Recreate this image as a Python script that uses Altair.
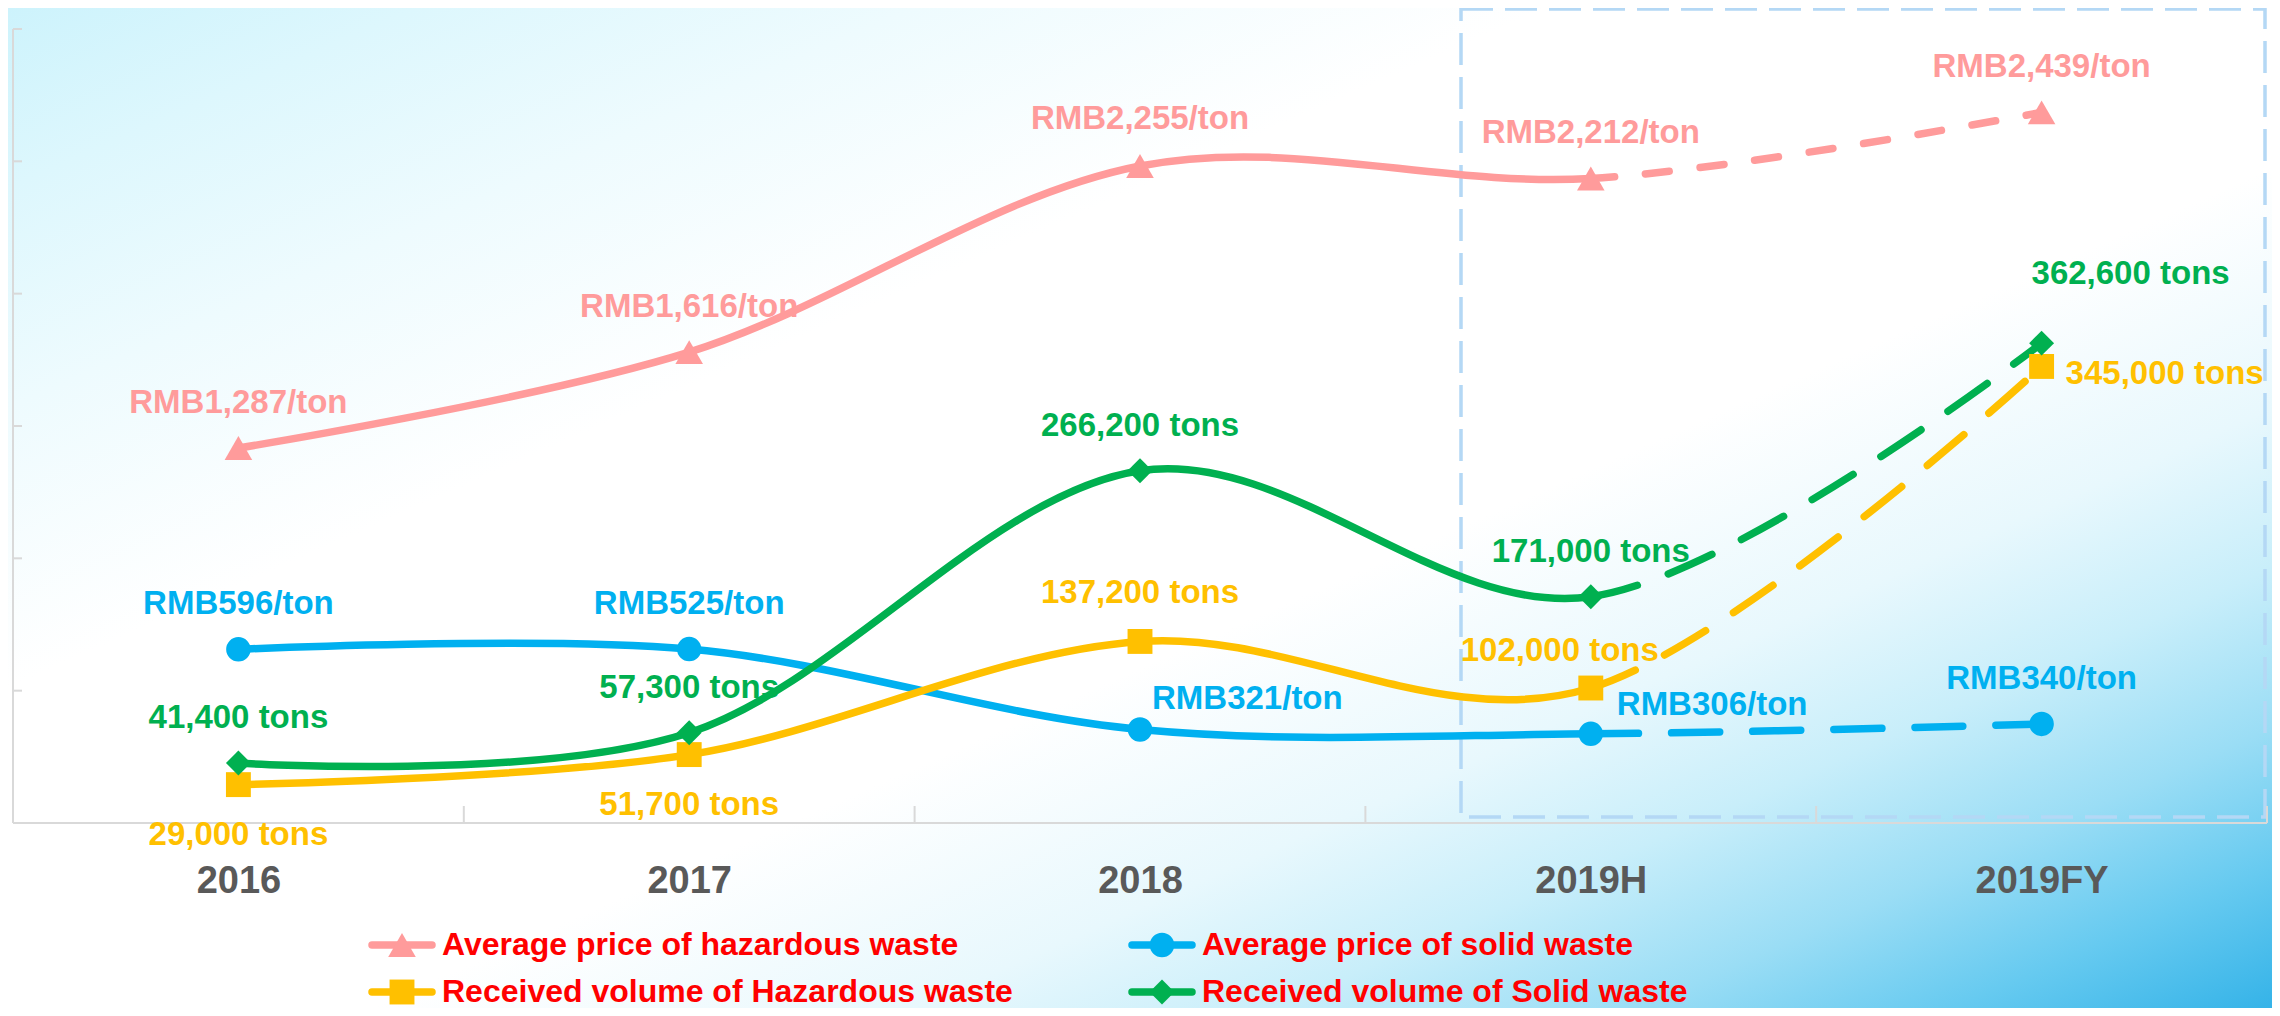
import altair as alt
import pandas as pd

# ---------------- data ----------------
years = ["2016", "2017", "2018", "2019H", "2019FY"]

haz_price = [1287, 1616, 2255, 2212, 2439]
haz_price_text = ["RMB1,287/ton", "RMB1,616/ton", "RMB2,255/ton", "RMB2,212/ton", "RMB2,439/ton"]

solid_price = [596, 597, 321, 306, 340]
solid_price_text = ["RMB596/ton", "RMB525/ton", "RMB321/ton", "RMB306/ton", "RMB340/ton"]

haz_volume = [29000, 51700, 137200, 102000, 345000]
haz_volume_text = ["29,000 tons", "51,700 tons", "137,200 tons", "102,000 tons", "345,000 tons"]

solid_volume = [45300, 68200, 266200, 171000, 362600]
solid_volume_text = ["41,400 tons", "57,300 tons", "266,200 tons", "171,000 tons", "362,600 tons"]

series_names = [
    "Average price of hazardous waste",
    "Average price of solid waste",
    "Received volume of Hazardous waste",
    "Received volume of Solid waste",
]
volume_ticks = [0, 100000, 200000, 300000, 400000, 500000, 600000]

# ---------------- layout / style ----------------
W, H = 2254, 794
FONT = "Liberation Sans"
VOL_DOMAIN = [0, 600000]
PRICE_DOMAIN = [0, 2725]
AXIS_GREY = "#D9D9D9"

x_scale = alt.Scale(type="point", domain=years, padding=0.5)
x_axis = alt.Axis(title=None, domain=False, ticks=False, grid=False, labelFont=FONT,
                  labelFontSize=38, labelFontWeight="bold", labelColor="#595959",
                  labelPadding=39, labelAngle=0, zindex=2)

series_style = {
    series_names[0]: dict(color="#FF9B9B", shape="triangle-up", size=760, dash=(24, 31), dom=PRICE_DOMAIN),
    series_names[1]: dict(color="#00B0F0", shape="circle", size=600, dash=(48, 33), dom=PRICE_DOMAIN),
    series_names[2]: dict(color="#FFC000", shape="square", size=620, dash=(48, 33), dom=VOL_DOMAIN),
    series_names[3]: dict(color="#00B050", shape="diamond", size=620, dash=(48, 33), dom=VOL_DOMAIN),
}
series_values = {
    series_names[0]: (haz_price, haz_price_text),
    series_names[1]: (solid_price, solid_price_text),
    series_names[2]: (haz_volume, haz_volume_text),
    series_names[3]: (solid_volume, solid_volume_text),
}
# label placement: (align, dx, dy) relative to the marker; default centred above
label_place = {
    (series_names[0], "2018"): ("center", 0, -37),
    (series_names[1], "2018"): ("left", 12, -20),
    (series_names[1], "2019H"): ("left", 26, -19),
    (series_names[2], "2016"): ("center", 0, 60),
    (series_names[2], "2017"): ("center", 0, 60),
    (series_names[2], "2018"): ("center", 0, -38),
    (series_names[2], "2019H"): ("center", -31, -27),
    (series_names[2], "2019FY"): ("left", 24, 18),
    (series_names[3], "2019FY"): ("center", 89, -59),
}


def pix(i, v, dom):
    return ((i + 0.5) * W / 5.0, H - v / dom[1] * H)


def last_segment_length(vals, dom):
    """Arc length of the cardinal-spline segment 2019H -> 2019FY (for the dash pattern)."""
    p0 = pix(4, vals[4], dom)
    p1 = pix(3, vals[3], dom)
    p2 = pix(2, vals[2], dom)
    k = 1.0 / 6.0
    c1 = p0
    c2 = (p1[0] - k * (p2[0] - p0[0]), p1[1] - k * (p2[1] - p0[1]))
    L, prev = 0.0, p0
    steps = 600
    for j in range(1, steps + 1):
        t = j / steps
        a, b, c, d = (1 - t) ** 3, 3 * (1 - t) ** 2 * t, 3 * (1 - t) * t ** 2, t ** 3
        pt = (a * p0[0] + b * c1[0] + c * c2[0] + d * p1[0],
              a * p0[1] + b * c1[1] + c * c2[1] + d * p1[1])
        L += ((pt[0] - prev[0]) ** 2 + (pt[1] - prev[1]) ** 2) ** 0.5
        prev = pt
    return L


def dash_array(L, d, g, big=6000):
    P = d + g
    n = int(L // P)
    r = L - n * P
    if r <= d:
        arr = [round(r, 2), g] + [d, g] * (n - 1) + [big]
    else:
        arr = [0, round(r - d, 2)] + [d, g] * n + [big]
    return arr


X = alt.X("year:N", scale=x_scale, axis=x_axis, sort=None)

layers = []

# background gradient
bg = alt.Chart(alt.Data(values=[{"k": 1}])).mark_rect(
    color=alt.LinearGradient(
        gradient="linear", x1=1, y1=1, x2=0, y2=0,
        stops=[
            alt.GradientStop(color="#35B3E8", offset=0.0),
            alt.GradientStop(color="#66CAF0", offset=0.07),
            alt.GradientStop(color="#9ADDF5", offset=0.14),
            alt.GradientStop(color="#C8EEFA", offset=0.22),
            alt.GradientStop(color="#E8F8FD", offset=0.30),
            alt.GradientStop(color="#FFFFFF", offset=0.42),
            alt.GradientStop(color="#FFFFFF", offset=0.66),
            alt.GradientStop(color="#EEFBFE", offset=0.80),
            alt.GradientStop(color="#DDF7FD", offset=0.91),
            alt.GradientStop(color="#CDF3FC", offset=1.0),
        ],
    )
).encode(x=alt.value(-5), x2=alt.value(W + 5), y=alt.value(-21), y2=alt.value(1000 - 21))
layers.append(bg)

# dashed highlight box
box = alt.Chart(alt.Data(values=[{"k": 1}])).mark_rect(
    fillOpacity=0, stroke="#B4D8F5", strokeWidth=3.5, strokeDash=[32, 12]
).encode(x=alt.value(1448), x2=alt.value(2252), y=alt.value(-20), y2=alt.value(788))
layers.append(box)

# axis lines and inward ticks
tick_df = pd.DataFrame({"v": volume_ticks})
layers.append(alt.Chart(alt.Data(values=[{"k": 1}])).mark_rule(color=AXIS_GREY, strokeWidth=2).encode(
    x=alt.value(0), y=alt.value(0), y2=alt.value(H)))
layers.append(alt.Chart(alt.Data(values=[{"k": 1}])).mark_rule(color=AXIS_GREY, strokeWidth=2).encode(
    x=alt.value(0), x2=alt.value(W), y=alt.value(H)))
layers.append(alt.Chart(tick_df).mark_rule(color=AXIS_GREY, strokeWidth=2).encode(
    y=alt.Y("v:Q", scale=alt.Scale(domain=VOL_DOMAIN), axis=None),
    x=alt.value(0), x2=alt.value(9)))
year_df = pd.DataFrame({"year": years})
layers.append(alt.Chart(year_df).mark_rule(color=AXIS_GREY, strokeWidth=2, xOffset=-W / 10.0).encode(
    x=X, y=alt.value(H - 17), y2=alt.value(H)))
layers.append(alt.Chart(year_df.tail(1)).mark_rule(color=AXIS_GREY, strokeWidth=2, xOffset=W / 10.0).encode(
    x=X, y=alt.value(H - 17), y2=alt.value(H)))

# series lines (solid up to 2019H, dashed to 2019FY) and markers
for name in series_names:
    st = series_style[name]
    vals, texts = series_values[name]
    df = pd.DataFrame({"year": years, "idx": list(range(5)), "value": vals, "label": texts})
    L = last_segment_length(vals, st["dom"])
    arr = dash_array(L, st["dash"][0], st["dash"][1])
    Y = alt.Y("value:Q", scale=alt.Scale(domain=st["dom"]), axis=None)
    layers.append(alt.Chart(df).mark_line(
        interpolate="cardinal", color=st["color"], strokeWidth=7.5, strokeCap="round",
        strokeJoin="round", strokeDash=arr
    ).encode(x=X, y=Y, order=alt.Order("idx:Q", sort="descending")))

for name in series_names:
    st = series_style[name]
    vals, texts = series_values[name]
    df = pd.DataFrame({"year": years, "value": vals})
    Y = alt.Y("value:Q", scale=alt.Scale(domain=st["dom"]), axis=None)
    layers.append(alt.Chart(df).mark_point(
        shape=st["shape"], size=st["size"], filled=True, opacity=1, color=st["color"]
    ).encode(x=X, y=Y))

# data labels
for name in series_names:
    st = series_style[name]
    vals, texts = series_values[name]
    for i, yr in enumerate(years):
        align, dx, dy = label_place.get((name, yr), ("center", 0, -35))
        df = pd.DataFrame({"year": [yr], "value": [vals[i]], "label": [texts[i]]})
        Y = alt.Y("value:Q", scale=alt.Scale(domain=st["dom"]), axis=None)
        layers.append(alt.Chart(df).mark_text(
            font=FONT, fontSize=33, fontWeight="bold", color=st["color"], align=align,
            baseline="alphabetic", dx=dx, dy=dy
        ).encode(x=X, y=Y, text="label:N"))

# legend (manual, two columns x two rows)
legend_pos = [(359, 916), (1119, 916), (359, 963), (1119, 963)]
for name, (lx, ly) in zip(series_names, legend_pos):
    st = series_style[name]
    one = alt.Data(values=[{"name": name}])
    layers.append(alt.Chart(one).mark_rule(color=st["color"], strokeWidth=7.5, strokeCap="round").encode(
        x=alt.value(lx), x2=alt.value(lx + 60), y=alt.value(ly)))
    layers.append(alt.Chart(one).mark_point(shape=st["shape"], size=st["size"], filled=True,
                                            opacity=1, color=st["color"]).encode(
        x=alt.value(lx + 30), y=alt.value(ly)))
    layers.append(alt.Chart(one).mark_text(font=FONT, fontSize=32, fontWeight="bold", color="#FF0000",
                                           align="left", baseline="middle").encode(
        x=alt.value(lx + 70), y=alt.value(ly), text="name:N"))

chart = alt.layer(*layers).resolve_scale(y="independent").properties(
    width=W, height=H,
    padding={"left": 5, "top": 21, "right": 5, "bottom": 185},
    autosize=alt.AutoSizeParams(type="none"),
    background="white",
).configure_view(stroke=None).configure(font=FONT)

chart.save("out.html", embed_options={"renderer": "svg", "actions": False})
